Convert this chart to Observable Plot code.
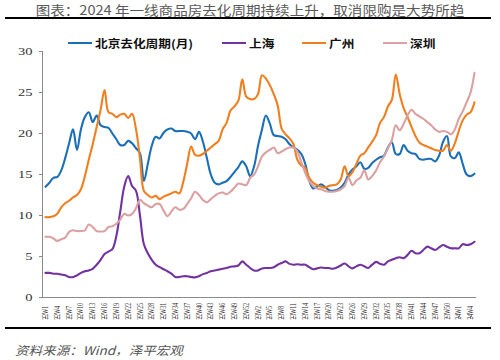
<!DOCTYPE html>
<html><head><meta charset="utf-8">
<script src="https://cdn.jsdelivr.net/npm/d3@7"></script>
<script src="https://cdn.jsdelivr.net/npm/@observablehq/plot@0.6"></script>
<style>
body{margin:0;background:#fff;}
#wrap{position:relative;width:500px;height:360px;overflow:hidden;font-family:"Noto Sans CJK SC",sans-serif;}
#title{position:absolute;left:0;top:2px;width:500px;text-align:center;font-size:13px;line-height:16px;color:#5a5a5a;white-space:nowrap;transform:scaleX(1.12);transform-origin:center;z-index:2;}
.rule{position:absolute;left:5px;width:486px;height:2px;background:#000;z-index:2;}
.lg{position:absolute;top:36px;height:14px;display:flex;align-items:center;z-index:2;}
.lg i{display:block;width:24px;height:2.5px;margin-right:3px;}
.lg span{display:block;font-size:11px;font-weight:bold;line-height:14px;color:#111;white-space:nowrap;transform:scaleX(1.15);transform-origin:left center;}
#chart{position:absolute;left:0;top:40px;z-index:1;}
#caption{position:absolute;left:15px;top:342px;font-size:12px;line-height:15px;font-style:italic;color:#555;white-space:nowrap;transform:scaleX(1.13);transform-origin:left center;z-index:2;}
</style></head>
<body>
<div id="wrap">
  <div id="title">图表：2024 年一线商品房去化周期持续上升，取消限购是大势所趋</div>
  <div class="rule" style="top:17px"></div>
  <div id="legend"></div>
  <div id="chart"></div>
  <div class="rule" style="top:327px"></div>
  <div id="caption">资料来源：Wind，泽平宏观</div>
</div>
<script>
const weeks = ["22W1","22W2","22W3","22W4","22W5","22W6","22W7","22W8","22W9","22W10",
"22W11","22W12","22W13","22W14","22W15","22W16","22W17","22W18","22W19","22W20",
"22W21","22W22","22W23","22W24","22W25","22W26","22W27","22W28","22W29","22W30",
"22W31","22W32","22W33","22W34","22W35","22W36","22W37","22W38","22W39","22W40",
"22W41","22W42","22W43","22W44","22W45","22W46","22W47","22W48","22W49","22W50",
"22W51","22W52","22W53","23W1","23W2","23W3","23W4","23W5","23W6","23W7",
"23W8","23W9","23W10","23W11","23W12","23W13","23W14","23W15","23W16","23W17",
"23W18","23W19","23W20","23W21","23W22","23W23","23W24","23W25","23W26","23W27",
"23W28","23W29","23W30","23W31","23W32","23W33","23W34","23W35","23W36","23W37",
"23W38","23W39","23W40","23W41","23W42","23W43","23W44","23W45","23W46","23W47",
"23W48","23W49","23W50","23W51","23W52","24W1","24W2","24W3","24W4","24W5"];

const xTicks = ["22W1","22W4","22W7","22W10","22W13","22W16","22W19","22W22","22W25","22W28",
"22W31","22W34","22W37","22W40","22W43","22W46","22W49","22W52","23W2","23W5","23W8",
"23W11","23W14","23W17","23W20","23W23","23W26","23W29","23W32","23W35","23W38","23W41",
"23W44","23W47","23W50","24W1","24W4"];

const yTicks = [0, 5, 10, 15, 20, 25, 30];

const cityNames = ["北京去化周期(月)", "上海", "广州", "深圳"];
const cityColors = ["#1b6fb6", "#7232a0", "#f07f1f", "#dba0a0"];

const beijing = [13.5, 14.0, 14.6, 14.7, 15.5, 17.0, 18.8, 20.5, 18.0, 20.5,
 22.0, 22.6, 21.4, 22.2, 21.0, 20.8, 20.7, 20.0, 19.3, 18.6,
 18.6, 19.1, 18.8, 18.2, 17.6, 14.2, 16.3, 18.5, 19.6, 19.4,
 20.1, 20.5, 20.6, 20.3, 20.3, 20.3, 20.2, 20.0, 19.3, 20.2,
 19.0, 17.0, 15.0, 14.0, 13.8, 14.0, 14.2, 14.7, 15.3, 15.9,
 16.6, 16.0, 14.8, 16.0, 18.5, 20.5, 22.2, 21.2, 19.8, 19.7,
 19.6, 19.3, 18.7, 18.3, 18.0, 17.5, 16.3, 14.3, 13.3, 13.5,
 13.8, 13.5, 13.1, 13.0, 13.1, 13.4, 14.0, 15.0, 15.6, 16.0,
 16.5, 15.7, 15.8, 16.4, 16.8, 17.1, 17.3, 18.3, 18.9, 17.5,
 17.5, 18.6, 17.9, 17.6, 17.5, 16.9, 16.8, 16.9, 16.9, 16.6,
 17.3, 19.0, 19.7, 17.2, 17.0, 17.7, 16.3, 15.0, 14.8, 15.1];

const shanghai = [3.0, 3.0, 2.9, 2.9, 2.8, 2.7, 2.5, 2.5, 2.7, 3.0,
 3.2, 3.3, 3.5, 4.0, 4.6, 5.3, 5.6, 5.9, 7.5, 10.5,
 13.5, 14.8, 13.6, 13.0, 10.0, 6.5, 5.4, 4.6, 4.0, 3.7,
 3.45, 3.2, 2.9, 2.5, 2.5, 2.6, 2.6, 2.5, 2.45, 2.6,
 2.85, 3.0, 3.2, 3.3, 3.4, 3.5, 3.6, 3.75, 3.8, 3.9,
 4.4, 4.0, 3.6, 3.3, 3.3, 3.55, 3.6, 3.6, 3.7, 4.0,
 4.2, 4.4, 4.1, 4.0, 4.05, 4.0, 4.0, 3.7, 3.45, 3.55,
 3.65, 3.6, 3.6, 3.5, 3.65, 3.9, 4.15, 3.8, 3.55, 3.8,
 4.0, 3.8, 3.6, 4.0, 4.35, 4.1, 4.0, 4.4, 4.6, 4.8,
 4.9, 4.8, 5.2, 5.7, 5.4, 5.4, 5.8, 6.2, 6.0, 5.8,
 6.1, 6.4, 6.2, 6.0, 6.0, 6.0, 6.5, 6.4, 6.5, 6.8];

const guangzhou = [9.8, 9.8, 9.9, 10.2, 11.0, 11.5, 11.8, 12.2, 12.5, 13.2,
 14.8, 16.8, 18.7, 20.8, 22.9, 25.3, 22.6, 22.4, 22.0, 22.3,
 22.4, 21.9, 22.4, 20.5, 17.0, 13.0, 12.5, 12.2, 12.4, 12.0,
 12.3, 12.5, 12.7, 12.9, 12.7, 14.1, 16.3, 18.4, 17.4, 17.3,
 17.5, 17.9, 18.3, 18.7, 19.1, 20.5, 21.3, 22.8, 23.3, 24.0,
 26.6, 24.5, 24.2, 24.2, 24.8, 27.1, 26.7, 25.9, 24.8, 23.4,
 20.6, 19.9, 19.4, 18.7, 16.8, 16.1, 15.8, 14.6, 14.0, 13.7,
 13.5, 13.4, 13.6, 13.7, 13.8, 14.4, 16.0, 14.8, 15.3, 16.3,
 17.3, 17.6, 18.3, 19.0, 19.8, 21.3, 22.0, 23.3, 24.1, 27.2,
 24.8, 23.1, 22.0, 20.8, 19.7, 18.9, 18.6, 18.4, 18.2, 18.0,
 17.9, 17.9, 18.6, 17.9, 18.8, 20.3, 21.6, 22.3, 22.6, 23.8];

const shenzhen = [7.4, 7.4, 7.2, 6.9, 7.1, 7.3, 8.0, 8.2, 8.1, 8.1,
 8.2, 8.9, 8.6, 8.1, 8.05, 8.1, 8.6, 8.7, 9.0, 9.5,
 10.2, 10.0, 10.2, 10.9, 11.9, 11.5, 11.2, 11.0, 11.4, 11.4,
 10.6, 9.9, 10.5, 11.0, 10.7, 10.8, 11.4, 12.1, 12.9, 12.5,
 11.9, 11.6, 12.0, 12.4, 12.7, 12.8, 12.6, 12.9, 13.4, 13.9,
 13.8, 13.7, 14.6, 15.0, 16.0, 17.2, 17.7, 18.0, 18.3, 17.6,
 17.8, 18.1, 18.3, 18.3, 17.8, 16.5, 15.2, 14.2, 13.6, 13.3,
 13.2, 13.0, 12.9, 12.9, 13.0, 13.2, 13.6, 14.6, 13.7, 14.3,
 14.6, 15.5, 14.4, 14.8, 15.5, 16.5, 17.2, 18.2, 19.2, 21.0,
 20.4, 21.2, 22.2, 22.9, 22.4, 22.1, 21.8, 21.4, 21.0, 20.5,
 20.2, 20.3, 20.2, 19.9, 20.5, 21.8, 22.7, 23.8, 25.0, 27.4];

const seriesValues = [beijing, shanghai, guangzhou, shenzhen];

// legend
const legendLeft = [68, 222, 302, 383];
const legend = document.getElementById("legend");
cityNames.forEach((name, k) => {
  const d = document.createElement("div");
  d.className = "lg";
  d.style.left = legendLeft[k] + "px";
  d.innerHTML = `<i style="background:${cityColors[k]}"></i><span>${name}</span>`;
  legend.appendChild(d);
});

const rows = [];
seriesValues.forEach((vals, k) => vals.forEach((v, i) => rows.push({week: weeks[i], value: v, city: cityNames[k]})));

const chart = Plot.plot({
  width: 500,
  height: 300,
  marginLeft: 42,
  marginRight: 25,
  marginTop: 11,
  marginBottom: 43,
  style: {fontFamily: "'Liberation Serif', serif", background: "transparent", overflow: "visible"},
  x: {type: "point", domain: weeks, range: [45, 474], padding: 0},
  y: {domain: [0, 30]},
  color: {domain: cityNames, range: cityColors},
  marks: [
    Plot.frame({anchor: "left", stroke: "#8a8a8a"}),
    Plot.frame({anchor: "bottom", stroke: "#8a8a8a"}),
    Plot.axisY({ticks: yTicks, tickSize: 3, tickPadding: 7, fontSize: 10, stroke: "#8a8a8a", fill: "#333", label: null}),
    Plot.axisX({ticks: xTicks, tickSize: 3, tickPadding: 0, tickRotate: -90, textAnchor: "start", lineAnchor: "middle", dy: 19, fontSize: 8, stroke: "#8a8a8a", fill: "#2a2a2a", label: null}),
    Plot.line(rows, {x: "week", y: "value", z: "city", stroke: "city", strokeWidth: 2.1, curve: "catmull-rom"})
  ]
});
document.getElementById("chart").appendChild(chart);

// stretch tick labels to match the reference's aspect
function stretch(sel, sx, sy) {
  d3.select(chart).selectAll(sel).each(function() {
    const t = d3.select(this);
    const tr = t.attr("transform");
    if (tr) {
      t.attr("transform", tr + ` scale(${sx},${sy})`);
    } else {
      const x = +t.attr("x") || 0, y = +t.attr("y") || 0;
      t.attr("x", null).attr("y", null).attr("transform", `translate(${x},${y}) scale(${sx},${sy})`);
    }
  });
}
stretch('g[aria-label="y-axis tick label"] text', 1.45, 1);
stretch('g[aria-label="x-axis tick label"] text', 0.7, 1);
</script>
</body></html>
